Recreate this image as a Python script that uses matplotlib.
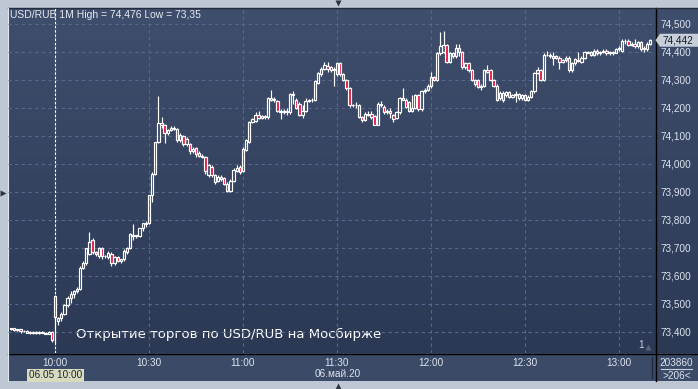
import numpy as np
import matplotlib
matplotlib.use("Agg")
import matplotlib.pyplot as plt
from matplotlib.patches import Rectangle, Polygon
from matplotlib.colors import LinearSegmentedColormap

plt.rcParams['font.family'] = ['Liberation Sans', 'DejaVu Sans']

# USD/RUB, 1-минутные свечи 06.05.2020, время в минутах от 10:00 (09:46 ... 13:10)
minutes = np.arange(-14, 191)

opens = [
    73.412, 73.414, 73.408, 73.410, 73.402, 73.405, 73.400, 73.395, 73.400, 73.396,
    73.400, 73.398, 73.394, 73.400,
    73.530, 73.440, 73.450, 73.465, 73.495, 73.520, 73.535, 73.545, 73.555, 73.630,
    73.645, 73.680, 73.730, 73.686, 73.670, 73.700, 73.670, 73.668, 73.680, 73.645,
    73.668, 73.655, 73.660, 73.685, 73.700, 73.745, 73.742, 73.742, 73.770, 73.785,
    73.790, 73.890, 73.965, 74.080, 74.145, 74.140, 74.110, 74.120, 74.130, 74.125,
    74.085, 74.100, 74.070, 74.070, 74.055, 74.056, 74.040, 74.030, 74.025, 73.960,
    73.990, 73.960, 73.940, 73.955, 73.950, 73.930, 73.905, 73.940, 73.975, 73.990,
    73.975, 74.050, 74.080, 74.150, 74.155, 74.175, 74.165, 74.170, 74.168, 74.235,
    74.230, 74.225, 74.190, 74.185, 74.188, 74.185, 74.250, 74.230, 74.215, 74.175,
    74.190, 74.225, 74.228, 74.230, 74.290, 74.320, 74.340, 74.350, 74.345, 74.335,
    74.320, 74.360, 74.320, 74.300, 74.270, 74.210, 74.212, 74.210, 74.168, 74.158,
    74.180, 74.178, 74.170, 74.140, 74.215, 74.205, 74.185, 74.190, 74.175, 74.165,
    74.185, 74.235, 74.230, 74.220, 74.190, 74.200, 74.245, 74.195, 74.260, 74.265,
    74.280, 74.310, 74.300, 74.395, 74.400, 74.425, 74.365, 74.395, 74.385, 74.415,
    74.400, 74.345, 74.360, 74.335, 74.285, 74.300, 74.275, 74.278, 74.335, 74.335,
    74.300, 74.280, 74.235, 74.255, 74.245, 74.258, 74.240, 74.245, 74.250, 74.235,
    74.245, 74.230, 74.240, 74.260, 74.325, 74.335, 74.300, 74.390, 74.390, 74.380,
    74.385, 74.380, 74.365, 74.370, 74.380, 74.335, 74.360, 74.372, 74.365, 74.380,
    74.400, 74.400, 74.390, 74.405, 74.395, 74.400, 74.405, 74.395, 74.400, 74.398,
    74.410, 74.405, 74.440, 74.440, 74.425, 74.430, 74.420, 74.435, 74.415, 74.410, 74.430,
]
highs = [
    73.416, 73.416, 73.412, 73.412, 73.408, 73.407, 73.404, 73.402, 73.403, 73.402,
    73.402, 73.400, 73.402, 73.402,
    73.532, 73.455, 73.470, 73.500, 73.530, 73.545, 73.550, 73.560, 73.635, 73.655,
    73.700, 73.757, 73.735, 73.690, 73.705, 73.705, 73.675, 73.690, 73.685, 73.670,
    73.670, 73.662, 73.695, 73.705, 73.755, 73.785, 73.748, 73.772, 73.790, 73.795,
    73.890, 73.970, 74.080, 74.243, 74.168, 74.142, 74.125, 74.135, 74.135, 74.130,
    74.110, 74.105, 74.095, 74.075, 74.060, 74.060, 74.045, 74.035, 74.030, 74.000,
    73.995, 73.965, 73.960, 73.960, 73.955, 73.935, 73.945, 73.985, 73.995, 73.995,
    74.060, 74.090, 74.155, 74.165, 74.185, 74.190, 74.175, 74.175, 74.240, 74.265,
    74.240, 74.230, 74.195, 74.195, 74.200, 74.255, 74.260, 74.235, 74.220, 74.210,
    74.235, 74.232, 74.235, 74.300, 74.330, 74.345, 74.365, 74.365, 74.350, 74.345,
    74.365, 74.365, 74.325, 74.305, 74.275, 74.215, 74.220, 74.215, 74.170, 74.185,
    74.190, 74.190, 74.175, 74.220, 74.225, 74.210, 74.195, 74.200, 74.180, 74.190,
    74.240, 74.270, 74.235, 74.225, 74.245, 74.250, 74.250, 74.265, 74.270, 74.285,
    74.330, 74.315, 74.400, 74.470, 74.476, 74.430, 74.400, 74.400, 74.430, 74.430,
    74.405, 74.365, 74.365, 74.340, 74.305, 74.305, 74.285, 74.340, 74.355, 74.340,
    74.305, 74.285, 74.260, 74.260, 74.262, 74.262, 74.250, 74.260, 74.255, 74.250,
    74.250, 74.245, 74.265, 74.330, 74.345, 74.340, 74.395, 74.405, 74.395, 74.400,
    74.390, 74.385, 74.375, 74.385, 74.385, 74.365, 74.380, 74.400, 74.385, 74.405,
    74.405, 74.405, 74.410, 74.410, 74.405, 74.410, 74.410, 74.405, 74.405, 74.415,
    74.420, 74.445, 74.445, 74.445, 74.435, 74.445, 74.440, 74.440, 74.420, 74.435, 74.448,
]
lows = [
    73.408, 73.405, 73.404, 73.398, 73.400, 73.395, 73.392, 73.392, 73.394, 73.394,
    73.395, 73.392, 73.392, 73.365,
    73.360, 73.425, 73.440, 73.460, 73.490, 73.505, 73.520, 73.540, 73.550, 73.625,
    73.640, 73.675, 73.680, 73.670, 73.665, 73.660, 73.665, 73.660, 73.635, 73.640,
    73.650, 73.645, 73.655, 73.680, 73.695, 73.730, 73.735, 73.740, 73.760, 73.775,
    73.785, 73.865, 73.960, 74.075, 74.130, 74.075, 74.105, 74.118, 74.120, 74.080,
    74.080, 74.065, 74.065, 74.035, 74.040, 74.025, 74.025, 74.020, 73.965, 73.955,
    73.955, 73.930, 73.935, 73.940, 73.925, 73.900, 73.900, 73.935, 73.970, 73.965,
    73.970, 74.045, 74.075, 74.145, 74.150, 74.160, 74.160, 74.160, 74.160, 74.225,
    74.220, 74.185, 74.160, 74.180, 74.175, 74.180, 74.215, 74.195, 74.170, 74.165,
    74.185, 74.220, 74.220, 74.225, 74.285, 74.315, 74.335, 74.330, 74.330, 74.280,
    74.315, 74.315, 74.295, 74.265, 74.205, 74.205, 74.200, 74.165, 74.150, 74.155,
    74.170, 74.160, 74.138, 74.138, 74.205, 74.180, 74.180, 74.165, 74.150, 74.160,
    74.180, 74.228, 74.200, 74.185, 74.185, 74.195, 74.190, 74.190, 74.255, 74.260,
    74.270, 74.295, 74.295, 74.390, 74.395, 74.360, 74.360, 74.380, 74.380, 74.385,
    74.340, 74.340, 74.330, 74.295, 74.280, 74.270, 74.265, 74.275, 74.325, 74.295,
    74.275, 74.225, 74.230, 74.220, 74.240, 74.235, 74.235, 74.222, 74.230, 74.230,
    74.225, 74.225, 74.235, 74.255, 74.320, 74.295, 74.295, 74.385, 74.380, 74.355,
    74.375, 74.340, 74.360, 74.365, 74.330, 74.330, 74.355, 74.365, 74.360, 74.375,
    74.395, 74.385, 74.385, 74.390, 74.390, 74.395, 74.390, 74.390, 74.390, 74.395,
    74.405, 74.400, 74.430, 74.420, 74.420, 74.415, 74.415, 74.405, 74.400, 74.405, 74.425,
]
closes = [
    73.414, 73.408, 73.410, 73.402, 73.405, 73.398, 73.395, 73.400, 73.396, 73.400,
    73.398, 73.394, 73.400, 73.372,
    73.455, 73.450, 73.465, 73.495, 73.520, 73.535, 73.545, 73.555, 73.630, 73.645,
    73.700, 73.720, 73.686, 73.680, 73.700, 73.670, 73.672, 73.682, 73.645, 73.668,
    73.655, 73.660, 73.690, 73.700, 73.750, 73.742, 73.745, 73.770, 73.790, 73.790,
    73.890, 73.965, 74.080, 74.145, 74.140, 74.110, 74.120, 74.130, 74.125, 74.085,
    74.105, 74.070, 74.090, 74.045, 74.048, 74.035, 74.030, 74.025, 73.975, 73.995,
    73.960, 73.935, 73.955, 73.945, 73.930, 73.905, 73.940, 73.980, 73.985, 73.970,
    74.055, 74.085, 74.150, 74.160, 74.175, 74.165, 74.170, 74.168, 74.235, 74.230,
    74.232, 74.190, 74.185, 74.188, 74.185, 74.250, 74.245, 74.200, 74.175, 74.190,
    74.225, 74.228, 74.230, 74.295, 74.325, 74.340, 74.355, 74.340, 74.335, 74.340,
    74.360, 74.320, 74.300, 74.270, 74.210, 74.212, 74.210, 74.168, 74.158, 74.180,
    74.175, 74.166, 74.140, 74.215, 74.210, 74.185, 74.190, 74.182, 74.162, 74.185,
    74.235, 74.230, 74.205, 74.190, 74.200, 74.245, 74.195, 74.260, 74.265, 74.280,
    74.310, 74.300, 74.395, 74.420, 74.425, 74.365, 74.395, 74.385, 74.415, 74.400,
    74.345, 74.360, 74.335, 74.300, 74.300, 74.275, 74.278, 74.335, 74.330, 74.300,
    74.280, 74.230, 74.255, 74.230, 74.258, 74.240, 74.245, 74.250, 74.235, 74.245,
    74.230, 74.240, 74.260, 74.325, 74.335, 74.300, 74.390, 74.388, 74.385, 74.385,
    74.380, 74.365, 74.370, 74.380, 74.335, 74.360, 74.375, 74.368, 74.380, 74.400,
    74.398, 74.390, 74.405, 74.395, 74.400, 74.405, 74.395, 74.400, 74.398, 74.410,
    74.415, 74.440, 74.438, 74.425, 74.428, 74.420, 74.435, 74.410, 74.410, 74.430, 74.442,
]

tick_minutes = [0, 30, 60, 90, 120, 150, 180]
tick_labels = ['10:00', '10:30', '11:00', '11:30', '12:00', '12:30', '13:00']
price_ticks = [73.4, 73.5, 73.6, 73.7, 73.8, 73.9, 74.0, 74.1, 74.2, 74.3, 74.4, 74.5]
last_price = 74.442

W, H = 698, 389
TXT = '#dde4ee'
RED = '#e5173f'
BODY_W = 0.74
LW = 0.85

fig = plt.figure(figsize=(W / 100, H / 100), dpi=100, facecolor='#bec8d5')

# фон, рамки и служебные надписи в пиксельных координатах
bg = fig.add_axes([0, 0, 1, 1], zorder=0)
bg.set_xlim(0, W)
bg.set_ylim(H, 0)
bg.axis('off')
cmap = LinearSegmentedColormap.from_list('bgc', ['#3f4e6c', '#2b3955'])
bg.imshow(np.linspace(0, 1, 256)[:, None], extent=(8, W, 353, 8), aspect='auto',
          cmap=cmap, interpolation='bilinear')
bg.add_patch(Rectangle((8, 353), W - 8, 28, facecolor='#3b4a67', edgecolor='none'))
bg.plot([8, W], [353.5, 353.5], color='black', lw=1)
bg.plot([655.5, 655.5], [8, 381], color='black', lw=1)
bg.plot([8, W], [7.5, 7.5], color='#232b3c', lw=1)
bg.plot([7.5, 7.5], [8, 381], color='#e2e7ef', lw=0.8)
bg.plot([651.5, 651.5], [357, 378], color='#232a3a', lw=1)
bg.plot([338], [3], marker='v', ms=5, color='#2c3444', mec='none')
bg.plot([3], [193], marker='>', ms=5, color='#2c3444', mec='none')
bg.plot([338], [386], marker='^', ms=5, color='#2c3444', mec='none')

bg.text(10, 14.5, 'USD/RUB 1M High = 74,476 Low = 73,35', color='#e6eaf1',
        fontsize=7.5, va='center', ha='left')
bg.text(76, 334, 'Открытие торгов по USD/RUB на Мосбирже', color='white',
        fontsize=9.5, va='center', ha='left', family=['DejaVu Sans'])
bg.text(55.5, 375.5, '06.05 10:00', color='#18243a', fontsize=7.2, ha='center', va='center',
        bbox=dict(boxstyle='square,pad=0.15', facecolor='#d9dbbd', edgecolor='none'))
bg.text(338, 374, '06.май.20', color=TXT, fontsize=7.2, ha='center', va='center')
bg.text(676.5, 362.5, '203860', color=TXT, fontsize=7.2, ha='center', va='center')
bg.plot([661, 692], [368.5, 368.5], color='#c9d1dd', lw=0.8)
bg.text(676.5, 376, '>206<', color=TXT, fontsize=7.2, ha='center', va='center')
bg.text(641, 345, '1', color='#c9d1dd', fontsize=7.2, ha='center', va='center')
bg.plot([648], [347], marker='^', ms=4, color='#59647a', mec='none')

# основная область графика
ax = fig.add_axes([8 / W, (H - 353) / H, (655 - 8) / W, (353 - 8) / H], zorder=1)
ax.set_facecolor('none')
ax.set_xlim(-15, 191.5)
ax.set_ylim(73.325, 74.557)
for s in ax.spines.values():
    s.set_visible(False)

ax.set_xticks(tick_minutes)
ax.set_xticklabels(tick_labels)
ax.set_yticks(price_ticks)
ax.set_yticklabels([f'{v:.3f}'.replace('.', ',') for v in price_ticks])
ax.yaxis.tick_right()
ax.tick_params(axis='x', length=0, pad=3.5, labelsize=7.2, labelcolor=TXT)
ax.tick_params(axis='y', length=0, pad=3.8, labelsize=7.2, labelcolor=TXT)
ax.grid(True, color='#59688a', ls=(0, (3, 3)), lw=0.8)
ax.set_axisbelow(True)

# вертикальный курсор на 10:00
ax.axvline(0, color='white', ls=(0, (2.2, 1.6)), lw=0.8, zorder=2)

for m, o, h, l, c in zip(minutes, opens, highs, lows, closes):
    lo_b, hi_b = min(o, c), max(o, c)
    ax.vlines(m, l, lo_b, color='white', lw=LW, zorder=3)
    ax.vlines(m, hi_b, h, color='white', lw=LW, zorder=3)
    face = RED if c < o else 'none'
    ax.add_patch(Rectangle((m - BODY_W / 2, lo_b), BODY_W, max(hi_b - lo_b, 0.0005),
                           facecolor=face, edgecolor='white', lw=LW, zorder=4))

# метка последней цены на правой шкале
y_last = 24 + (74.5 - last_price) * 280
bg.add_patch(Polygon([(655.5, y_last), (660, y_last - 6.5), (W, y_last - 6.5),
                      (W, y_last + 6.5), (660, y_last + 6.5)],
                     closed=True, facecolor='#c6ced9', edgecolor='none', zorder=5))
bg.text(678, y_last, f'{last_price:.3f}'.replace('.', ','), color='#141c2a', fontsize=7.2,
        ha='center', va='center', zorder=6)

fig.savefig('out.png', dpi=100)
